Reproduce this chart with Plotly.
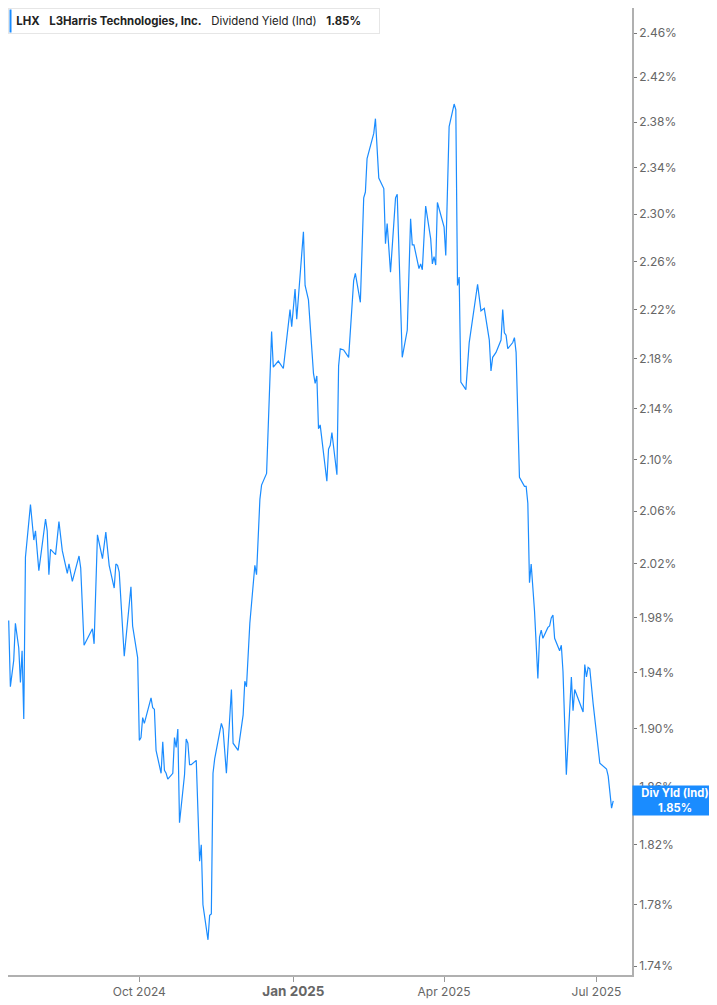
import numpy as np
import plotly.graph_objects as go

# LHX dividend yield (indicated), values in %
dates = [
    "2024-07-15", "2024-07-16", "2024-07-18", "2024-07-19", "2024-07-21", "2024-07-22",
    "2024-07-23", "2024-07-24", "2024-07-25", "2024-07-26", "2024-07-28", "2024-07-30",
    "2024-07-31", "2024-08-02", "2024-08-06", "2024-08-07", "2024-08-08", "2024-08-09",
    "2024-08-12", "2024-08-14", "2024-08-16", "2024-08-19", "2024-08-20", "2024-08-22",
    "2024-08-26", "2024-08-27", "2024-08-29", "2024-09-03", "2024-09-04", "2024-09-06",
    "2024-09-09", "2024-09-11", "2024-09-13", "2024-09-16", "2024-09-17", "2024-09-18",
    "2024-09-19", "2024-09-22", "2024-09-26", "2024-09-27", "2024-09-30", "2024-10-01",
    "2024-10-02", "2024-10-03", "2024-10-04", "2024-10-08", "2024-10-09", "2024-10-10",
    "2024-10-11", "2024-10-14", "2024-10-15", "2024-10-16", "2024-10-17", "2024-10-18",
    "2024-10-21", "2024-10-22", "2024-10-23", "2024-10-24", "2024-10-25", "2024-10-28",
    "2024-10-29", "2024-10-30", "2024-10-31", "2024-11-01", "2024-11-04", "2024-11-06",
    "2024-11-07", "2024-11-08", "2024-11-11", "2024-11-12", "2024-11-13", "2024-11-14",
    "2024-11-15", "2024-11-19", "2024-11-20", "2024-11-22", "2024-11-25", "2024-11-26",
    "2024-11-29", "2024-12-02", "2024-12-03", "2024-12-04", "2024-12-06", "2024-12-09",
    "2024-12-10", "2024-12-12", "2024-12-13", "2024-12-16", "2024-12-19", "2024-12-20",
    "2024-12-23", "2024-12-26", "2024-12-30", "2024-12-31", "2025-01-02", "2025-01-03",
    "2025-01-05", "2025-01-07", "2025-01-08", "2025-01-10", "2025-01-13", "2025-01-14",
    "2025-01-15", "2025-01-16", "2025-01-17", "2025-01-21", "2025-01-22", "2025-01-23",
    "2025-01-24", "2025-01-27", "2025-01-28", "2025-01-29", "2025-01-31", "2025-02-03",
    "2025-02-06", "2025-02-07", "2025-02-10", "2025-02-12", "2025-02-13", "2025-02-14",
    "2025-02-18", "2025-02-19", "2025-02-21", "2025-02-24", "2025-02-25", "2025-02-26",
    "2025-02-28", "2025-03-03", "2025-03-04", "2025-03-07", "2025-03-10", "2025-03-12",
    "2025-03-13", "2025-03-14", "2025-03-17", "2025-03-18", "2025-03-19", "2025-03-21",
    "2025-03-24", "2025-03-25", "2025-03-26", "2025-03-27", "2025-03-28", "2025-04-01",
    "2025-04-02", "2025-04-04", "2025-04-07", "2025-04-08", "2025-04-09", "2025-04-10",
    "2025-04-11", "2025-04-14", "2025-04-16", "2025-04-21", "2025-04-23", "2025-04-25",
    "2025-04-28", "2025-04-29", "2025-04-30", "2025-05-02", "2025-05-05", "2025-05-06",
    "2025-05-07", "2025-05-08", "2025-05-09", "2025-05-12", "2025-05-13", "2025-05-14",
    "2025-05-16", "2025-05-19", "2025-05-20", "2025-05-21", "2025-05-22", "2025-05-23",
    "2025-05-25", "2025-05-27", "2025-05-28", "2025-05-29", "2025-05-30", "2025-06-02",
    "2025-06-03", "2025-06-04", "2025-06-05", "2025-06-06", "2025-06-09", "2025-06-10",
    "2025-06-11", "2025-06-13", "2025-06-16", "2025-06-17", "2025-06-18", "2025-06-23",
    "2025-06-24", "2025-06-25", "2025-06-26", "2025-06-27", "2025-06-29", "2025-07-03",
    "2025-07-07", "2025-07-08", "2025-07-10", "2025-07-11",
]

div_yield = [
    1.978, 1.930, 1.949, 1.976, 1.958, 1.933,
    1.956, 1.907, 2.025, 2.038, 2.065, 2.038,
    2.045, 2.015, 2.054, 2.045, 2.012, 2.031,
    2.027, 2.052, 2.030, 2.013, 2.020, 2.007,
    2.026, 2.017, 1.960, 1.972, 1.961, 2.042,
    2.024, 2.044, 2.019, 2.002, 2.020, 2.019,
    2.014, 1.952, 2.003, 1.974, 1.951, 1.892,
    1.894, 1.908, 1.904, 1.922, 1.915, 1.914,
    1.885, 1.869, 1.891, 1.871, 1.869, 1.865,
    1.869, 1.894, 1.887, 1.900, 1.835, 1.868,
    1.893, 1.890, 1.875, 1.875, 1.878, 1.809,
    1.820, 1.780, 1.757, 1.773, 1.774, 1.869,
    1.879, 1.904, 1.900, 1.869, 1.928, 1.890,
    1.885, 1.910, 1.934, 1.930, 1.976, 2.019,
    2.012, 2.069, 2.080, 2.089, 2.202, 2.173,
    2.178, 2.172, 2.220, 2.206, 2.237, 2.212,
    2.247, 2.285, 2.240, 2.228, 2.168, 2.160,
    2.166, 2.124, 2.127, 2.083, 2.108, 2.111,
    2.121, 2.088, 2.174, 2.188, 2.187, 2.181,
    2.244, 2.250, 2.226, 2.314, 2.319, 2.348,
    2.370, 2.383, 2.331, 2.322, 2.275, 2.292,
    2.251, 2.314, 2.317, 2.181, 2.203, 2.296,
    2.274, 2.274, 2.254, 2.258, 2.253, 2.307,
    2.279, 2.258, 2.264, 2.257, 2.310, 2.289,
    2.265, 2.376, 2.396, 2.391, 2.240, 2.247,
    2.161, 2.155, 2.193, 2.241, 2.219, 2.221,
    2.195, 2.170, 2.181, 2.185, 2.195, 2.220,
    2.201, 2.199, 2.188, 2.193, 2.197, 2.185,
    2.086, 2.079, 2.079, 2.066, 2.006, 2.020,
    1.985, 1.936, 1.966, 1.971, 1.965, 1.973,
    1.974, 1.980, 1.982, 1.965, 1.956, 1.960,
    1.941, 1.868, 1.937, 1.913, 1.928, 1.912,
    1.946, 1.937, 1.944, 1.943, 1.918, 1.876,
    1.872, 1.867, 1.845, 1.850,
]

x_tickvals = ["2024-10-01", "2025-01-01", "2025-04-01", "2025-07-01"]
x_ticktext = ["Oct 2024", "<span style='font-size:13.5px'><b>Jan 2025</b></span>",
              "Apr 2025", "Jul 2025"]
y_tickvals = [1.74, 1.78, 1.82, 1.86, 1.90, 1.94, 1.98, 2.02, 2.06, 2.10,
              2.14, 2.18, 2.22, 2.26, 2.30, 2.34, 2.38, 2.42, 2.46]
y_ticktext = [f"{v:.2f}%" for v in y_tickvals]

blue = "#1a8cff"
last = div_yield[-1]
fnt = "Inter, Roboto, sans-serif"

fig = go.Figure()
fig.add_trace(go.Scatter(x=dates, y=div_yield, mode="lines",
                         line=dict(color=blue, width=1.2),
                         name="Dividend Yield (Ind)", hoverinfo="x+y"))

# page body has an 8px margin, so the figure is a bit smaller than the window
fig.update_layout(
    width=709, height=997,
    margin=dict(l=0, r=85, t=0, b=30),
    plot_bgcolor="white", paper_bgcolor="white",
    showlegend=False,
    font=dict(family=fnt, size=12, color="#666"),
)

fig.update_xaxes(
    type="date",
    range=["2024-07-14 14:00", "2025-07-22 05:00"],
    tickvals=x_tickvals, ticktext=x_ticktext,
    ticks="outside", ticklen=5, tickcolor="#999", tickwidth=1,
    showline=True, linecolor="#b0b0b0", linewidth=1.5,
    showgrid=False, zeroline=False,
    tickfont=dict(size=12, color="#666"),
)
fig.update_yaxes(
    type="log", side="right",
    range=[0.239098, 0.394965],
    tickvals=y_tickvals, ticktext=y_ticktext,
    ticks="outside", ticklen=3, tickcolor="#777", tickwidth=1,
    showline=True, linecolor="#b0b0b0", linewidth=1.5,
    showgrid=False, zeroline=False,
    tickfont=dict(size=12, color="#666"),
)

sp = "&nbsp;&nbsp;&nbsp;"
fig.add_annotation(
    xref="paper", yref="paper", x=0, y=1, xanchor="left", yanchor="top",
    text=f"&nbsp;<b>LHX</b>{sp}<b>L3Harris Technologies, Inc.</b>{sp}Dividend Yield (Ind){sp}<b>{last:.2f}%</b>",
    showarrow=False, align="left", width=362, height=16,
    bgcolor="white", bordercolor="#e6e6e6", borderwidth=1, borderpad=4,
    font=dict(family=fnt, size=11.4, color="#222"),
)
fig.add_annotation(
    xref="paper", yref="paper", x=0, y=1, xanchor="left", yanchor="top",
    xshift=1, yshift=-1,
    text=" ", showarrow=False, width=1, height=22,
    bgcolor=blue, borderpad=0, font=dict(size=4),
)

fig.add_annotation(
    xref="paper", yref="y", x=1, y=np.log10(last), xanchor="left", yanchor="middle",
    text=f"<b>Div Yld (Ind)</b><br><b>{last:.2f}%</b>",
    showarrow=False, width=80, height=25, borderpad=2,
    bgcolor=blue, font=dict(family=fnt, size=11.2, color="white"),
)

fig.write_html("out.html")
